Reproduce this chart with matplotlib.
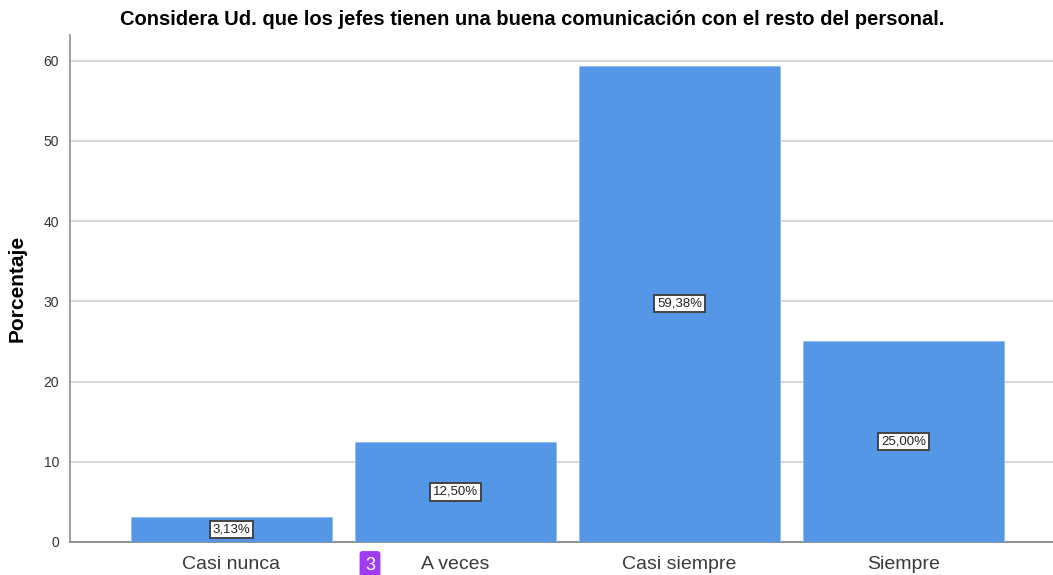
import matplotlib
matplotlib.use('Agg')
import matplotlib.pyplot as plt

plt.rcParams['font.family'] = ['Liberation Sans', 'DejaVu Sans']

# datos
categorias = ['Casi nunca', 'A veces', 'Casi siempre', 'Siempre']
porcentajes = [3.13, 12.50, 59.38, 25.00]
etiquetas = ['3,13%', '12,50%', '59,38%', '25,00%']

fig = plt.figure(figsize=(10.53, 5.75), dpi=100)
ax = fig.add_axes([0.0665, 0.0574, 0.9335, 0.8816])

x = list(range(len(categorias)))
ax.bar(x, porcentajes, width=0.9, color='#5596E6', edgecolor='#8fbaf0',
       linewidth=0.6, zorder=3)

# etiquetas de porcentaje en el centro de cada barra
for xi, val, lab in zip(x, porcentajes, etiquetas):
    ax.text(xi, val / 2, lab, ha='center', va='center', fontsize=9.5,
            color='#222222', zorder=4,
            bbox=dict(boxstyle='square,pad=0.2', facecolor='white',
                      edgecolor='#444444', linewidth=1.4))

ax.set_xlim(-0.72, 3.667)
ax.set_ylim(0, 63.2)
ax.set_yticks([0, 10, 20, 30, 40, 50, 60])
ax.set_xticks(x)
ax.set_xticklabels(categorias, fontsize=14, color='#3a3a3a')
ax.tick_params(axis='y', labelsize=10, colors='#333333', length=0, pad=8)
ax.tick_params(axis='x', length=0, pad=10)
ax.grid(axis='y', color='#d9d9d9', linewidth=1.5, zorder=0)

for s in ['top', 'right']:
    ax.spines[s].set_visible(False)
ax.spines['left'].set_color('#999999')
ax.spines['left'].set_linewidth(1.3)
ax.spines['bottom'].set_color('#888888')
ax.spines['bottom'].set_linewidth(1.3)

ax.set_ylabel('Porcentaje', fontsize=15, fontweight='bold', labelpad=12)
fig.text(0.505, 0.966, 'Considera Ud. que los jefes tienen una buena comunicación con el resto del personal.',
         ha='center', va='center', fontsize=14.5, fontweight='bold')

# marcador morado bajo el eje
fig.text(370 / 1053, 1 - 565 / 575, '3', ha='center', va='center', fontsize=13,
         color='white',
         bbox=dict(boxstyle='round,pad=0.3,rounding_size=0.15',
                   facecolor='#a03cf0', edgecolor='none'))

fig.savefig('out.png', dpi=100)
